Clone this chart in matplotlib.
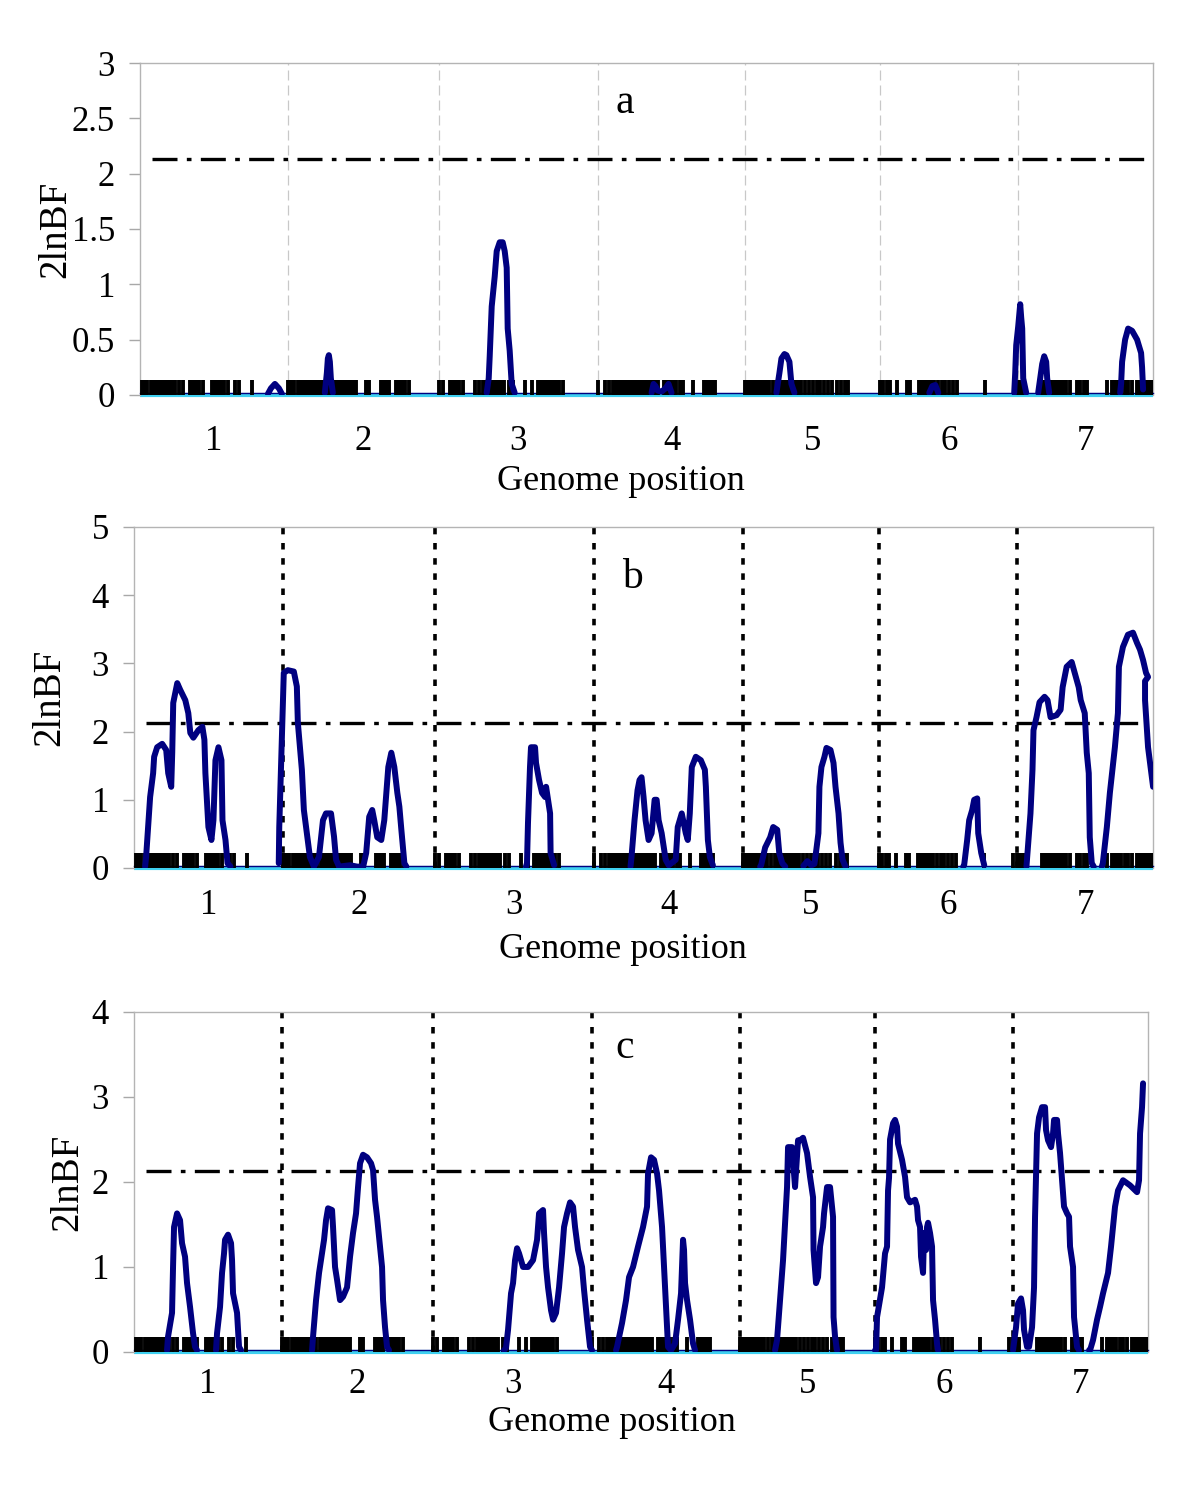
import numpy as np
import matplotlib
matplotlib.use("Agg")
import matplotlib.pyplot as plt
import matplotlib.transforms as mtransforms
from matplotlib.ticker import FuncFormatter

plt.rcParams['font.family'] = ['Liberation Serif', 'DejaVu Serif']

nan = np.nan

# chromosome names and lengths (cM)
chrom_names = ["1", "2", "3", "4", "5", "6", "7"]
chrom_len = [148, 151, 159, 148, 135, 138, 135]

# marker positions within each chromosome (cM)
markers = [
    [2, 5, 7, 11, 14, 17, 20, 23, 26, 29, 32, 35, 39, 43, 50, 53, 56, 59, 63,
     72, 75, 78, 81, 84, 88, 95, 99, 112],
    [0, 3, 6, 10, 13, 16, 19, 22, 25, 28, 31, 34, 38, 41, 44, 47, 50, 53, 56,
     59, 62, 65, 68, 78, 81, 93, 96, 99, 101, 108, 111, 114, 117, 121],
    [0, 4, 11, 14, 17, 20, 24, 36, 40, 44, 47, 50, 53, 56, 59, 62, 65, 70, 74,
     86, 93, 99, 102, 105, 108, 111, 114, 117, 120, 124],
    [0, 7, 11, 15, 18, 21, 24, 27, 30, 33, 36, 39, 42, 45, 48, 51, 54, 57, 60,
     66, 69, 72, 75, 78, 82, 85, 95, 106, 109, 112, 115, 118],
    [0, 3, 6, 9, 12, 15, 18, 21, 24, 28, 32, 35, 38, 41, 44, 47, 50, 53, 56,
     60, 64, 68, 72, 75, 79, 83, 87, 92, 96, 100, 103],
    [0, 3, 7, 10, 17, 27, 30, 39, 42, 45, 48, 51, 54, 58, 62, 65, 69, 73, 77,
     105, 134],
    [0, 3, 6, 24, 27, 30, 33, 36, 39, 42, 45, 48, 52, 59, 62, 66, 69, 89, 94,
     97, 100, 103, 107, 110, 114, 119, 122, 125, 128, 131, 134],
]

threshold = 2.13

# profile a: genome position (cM) and 2lnBF, nan separates peaks
a_pos = [128, 131, 135, 139, 142, nan,
         185, 187, 188, 189, 190, 191, 193, nan,
         347, 349, 350, 352, 355, 357, 360, 363, 365, 367, 368, 370, 372, 375, nan,
         512, 514, 516, 518, 522, 526, 529, 532, nan,
         637, 640, 642, 645, 647, 650, 652, 655, nan,
         790, 793, 796, 799, nan,
         875, 876, 877, 879, 881, 882, 883, 884, 887, nan,
         899, 901, 903, 905, 907, 908, 910, nan,
         981, 982, 983, 986, 989, 993, 998, 1002, 1003, 1004]
a_val = [0.01, 0.06, 0.1, 0.06, 0.01, nan,
         0.02, 0.2, 0.33, 0.36, 0.3, 0.15, 0.02, nan,
         0.02, 0.15, 0.35, 0.8, 1.07, 1.3, 1.38, 1.38, 1.3, 1.15, 0.6, 0.4, 0.1, 0.02, nan,
         0.02, 0.1, 0.08, 0.04, 0.03, 0.06, 0.1, 0.02, nan,
         0.02, 0.2, 0.33, 0.37, 0.36, 0.3, 0.1, 0.02, nan,
         0.02, 0.08, 0.09, 0.02, nan,
         0.02, 0.2, 0.45, 0.62, 0.82, 0.7, 0.6, 0.15, 0.02, nan,
         0.02, 0.15, 0.28, 0.35, 0.3, 0.15, 0.02, nan,
         0.02, 0.1, 0.3, 0.5, 0.6, 0.58, 0.5, 0.38, 0.25, 0.05]

# profile b
b_pos = [11, 12, 16, 19, 20, 23, 28, 32, 34, 37, 38, 39, 43, 46, 51, 54, 56, 59,
         64, 68, 70, 71, 74, 77, 79, 81, 84, 87, 88, 91, 93, 96, nan,
         144, 144.5, 148, 149, 153, 159, 162, 163, 167, 169, 172, 175, 179, 184,
         188, 191, 196, 199, 201, 204, 215, 222, 228, 231, 234, 237, 239, 242,
         246, 249, 253, 256, 259, 262, 264, 266, 269, 271, nan,
         390, 391, 392, 394, 395, 399, 400, 403, 406, 409, 410, 412, 414, 414.5,
         418, nan,
         494, 495, 498, 501, 503, 505, 507, 509, 512, 515, 518, 520, 522, 525,
         529, 532, 539, 541, 545, 549, 551, 553, 555, 559, 564, 568, 569, 571,
         573, 576, nan,
         623, 624, 628, 633, 636, 640, 642, 645, 648, nan,
         666, 670, 674, 677, 678, 681, 682, 684, 687, 689, 693, 696, 698, 701,
         703, 705, 708, nan,
         825, 826, 829, 831, 834, 836, 839, 840, 843, 846, nan,
         888, 889, 892, 894, 895, 898, 901, 906, 909, 912, 918, 922, 924, 928,
         933, 936, 940, 942, 946, 948, 950, 951, 953, 955, nan,
         963, 964, 968, 971, 976, 979, 980, 984, 989, 994, 998, 1001, 1004,
         1007, 1009, 1006, 1006, 1009, 1014]
b_val = [0.02, 0.16, 1.04, 1.39, 1.63, 1.77, 1.82, 1.73, 1.39, 1.19, 1.69, 2.42,
         2.71, 2.61, 2.46, 2.27, 1.98, 1.91, 2.02, 2.07, 1.88, 1.39, 0.6, 0.41,
         0.7, 1.58, 1.77, 1.58, 0.7, 0.41, 0.07, 0.02, nan,
         0.07, 0.6, 2.32, 2.86, 2.9, 2.88, 2.66, 2.13, 1.44, 0.85, 0.51, 0.16,
         0.02, 0.16, 0.7, 0.8, 0.8, 0.46, 0.12, 0.02, 0.04, 0.02, 0.02, 0.22,
         0.75, 0.85, 0.7, 0.45, 0.41, 0.7, 1.48, 1.69, 1.48, 1.1, 0.9, 0.56,
         0.07, 0.02, nan,
         0.02, 0.07, 0.66, 1.48, 1.77, 1.77, 1.54, 1.29, 1.1, 1.04, 1.19, 1.0,
         0.8, 0.22, 0.04, nan,
         0.02, 0.16, 0.7, 1.14, 1.29, 1.33, 1.04, 0.7, 0.41, 0.51, 1.0, 1.0, 0.7,
         0.51, 0.12, 0.04, 0.12, 0.6, 0.8, 0.51, 0.41, 0.8, 1.48, 1.63, 1.58,
         1.44, 1.19, 0.41, 0.16, 0.04, nan,
         0.02, 0.04, 0.3, 0.45, 0.6, 0.56, 0.22, 0.07, 0.02, nan,
         0.03, 0.1, 0.04, 0.06, 0.16, 0.51, 1.19, 1.48, 1.63, 1.76, 1.73, 1.54,
         1.19, 0.8, 0.37, 0.12, 0.02, nan,
         0.02, 0.04, 0.41, 0.7, 0.85, 1.0, 1.02, 0.51, 0.22, 0.04, nan,
         0.02, 0.22, 0.8, 1.44, 2.02, 2.21, 2.43, 2.51, 2.46, 2.21, 2.24, 2.32,
         2.65, 2.95, 3.02, 2.86, 2.65, 2.46, 2.27, 1.69, 1.39, 0.45, 0.07, 0.02,
         nan,
         0.02, 0.07, 0.6, 1.1, 1.77, 2.27, 2.95, 3.24, 3.42, 3.45, 3.3, 3.2, 3.05,
         2.86, 2.8, 2.74, 2.46, 1.77, 1.19]

# profile c
c_pos = [33, 34, 38, 39, 40, 43, 46, 48, 51, 53, 56, 59, 61, 63, nan,
         82, 83, 86, 88, 90, 91, 94, 97, 98, 99, 103, 105, 107, nan,
         178, 179, 182, 185, 188, 190, 192, 194, 198, 199, 201, 203, 206, 209,
         213, 216, 219, 222, 224, 226, 229, 233, 237, 239, 241, 243, 246, 248,
         249, 251, 253, 255, nan,
         370, 372, 374, 377, 379, 381, 383, 385, 389, 394, 399, 403, 405, 409,
         410, 412, 414, 417, 419, 422, 425, 428, 430, 433, 436, 439, 441, 444,
         448, 450, 453, 456, 458, nan,
         482, 483, 488, 492, 495, 499, 504, 509, 513, 514, 517, 520, 523, 525,
         528, 530, 532, 534, 537, 541, 544, 547, 549, 550, 551, 553, 556, 559,
         561, nan,
         641, 643, 646, 649, 653, 654, 658, 661, 664, 666, 669, 673, 676, 679,
         679.5, 682, 684, 686, 689, 690, 693, 696, 699, 699.5, 701, 703, nan,
         741, 742, 743, 748, 751, 753, 754, 755, 756, 759, 761, 763, 764, 768,
         771, 773, 776, 781, 783, 784, 786, 787, 789, 790, 792, 793, 794, 796,
         798, 799, 801, 803, 804, nan,
         879, 882, 884, 887, 889, 890, 893, 895, 898, 900, 901, 903, 905, 908,
         911, 912, 914, 917, 919, 920, 923, 924, 926, 928, 930, 933, 935, 936,
         939, 940, 943, 945, nan,
         955, 956, 959, 963, 966, 969, 974, 977, 979, 981, 984, 989, 996, 1003,
         1005, 1006, 1008, 1009]
c_val = [0.02, 0.18, 0.46, 1.0, 1.47, 1.63, 1.55, 1.28, 1.12, 0.81, 0.53, 0.22,
         0.06, 0.02, nan,
         0.02, 0.22, 0.53, 0.93, 1.16, 1.32, 1.38, 1.28, 1.08, 0.69, 0.46, 0.06,
         0.02, nan,
         0.02, 0.18, 0.61, 0.93, 1.16, 1.32, 1.55, 1.69, 1.67, 1.47, 1.0, 0.85,
         0.61, 0.65, 0.76, 1.12, 1.4, 1.63, 1.94, 2.22, 2.32, 2.29, 2.22, 2.14,
         1.79, 1.59, 1.24, 1.0, 0.61, 0.29, 0.06, 0.02, nan,
         0.02, 0.05, 0.26, 0.69, 0.81, 1.08, 1.22, 1.16, 1.0, 1.0, 1.08, 1.32,
         1.63, 1.67, 1.4, 1.0, 0.76, 0.49, 0.38, 0.46, 0.76, 1.16, 1.47, 1.63,
         1.76, 1.71, 1.47, 1.2, 1.0, 0.73, 0.38, 0.06, 0.02, nan,
         0.02, 0.06, 0.34, 0.61, 0.88, 1.0, 1.24, 1.47, 1.71, 2.1, 2.29, 2.26,
         2.1, 1.9, 1.47, 1.0, 0.53, 0.06, 0.02, 0.1, 0.38, 0.69, 1.32, 1.2, 0.81,
         0.61, 0.38, 0.1, 0.02, nan,
         0.02, 0.14, 0.61, 1.08, 1.94, 2.41, 2.41, 1.94, 2.49, 2.49, 2.52, 2.34,
         2.06, 1.82, 1.2, 0.81, 0.88, 1.24, 1.47, 1.63, 1.94, 1.94, 1.59, 0.41,
         0.18, 0.02, nan,
         0.02, 0.02, 0.41, 0.76, 1.16, 1.24, 1.9, 2.05, 2.5, 2.69, 2.73, 2.65,
         2.45, 2.26, 2.06, 1.82, 1.76, 1.79, 1.71, 1.55, 1.47, 1.12, 0.93, 1.4,
         1.2, 1.47, 1.52, 1.4, 1.24, 0.61, 0.38, 0.1, 0.02, nan,
         0.02, 0.29, 0.57, 0.63, 0.49, 0.26, 0.06, 0.06, 0.29, 0.76, 1.59, 2.57,
         2.76, 2.88, 2.88, 2.61, 2.49, 2.41, 2.57, 2.73, 2.73, 2.57, 2.34, 2.02,
         1.71, 1.63, 1.59, 1.24, 1.0, 0.41, 0.06, 0.02, nan,
         0.02, 0.02, 0.14, 0.38, 0.53, 0.69, 0.93, 1.24, 1.47, 1.71, 1.9, 2.02,
         1.96, 1.88, 2.02, 2.57, 2.88, 3.16]

starts = np.concatenate([[0], np.cumsum(chrom_len)[:-1]])
bounds = np.cumsum(chrom_len)[:-1]
mids = starts + np.array(chrom_len) / 2
total = sum(chrom_len)
all_markers = np.concatenate([np.array(m) + s for m, s in zip(markers, starts)])

fig = plt.figure(figsize=(12, 14.86), dpi=100)

panels = [
    dict(rect=[0.1167, 0.7342, 0.8442, 0.2234], pos=a_pos, val=a_val, ymax=3,
         step=0.5, tag="a", tagxy=(0.479, 0.88), sep="light",
         ylab_x=-0.083, num_y=-0.139, gp_y=-0.262, gp_x=0.475),
    dict(rect=[0.1117, 0.4159, 0.8492, 0.2295], pos=b_pos, val=b_val, ymax=5,
         step=1, tag="b", tagxy=(0.489, 0.85), sep="dot",
         ylab_x=-0.083, num_y=-0.111, gp_y=-0.24, gp_x=0.48),
    dict(rect=[0.1117, 0.0902, 0.8450, 0.2288], pos=c_pos, val=c_val, ymax=4,
         step=1, tag="c", tagxy=(0.484, 0.894), sep="dot",
         ylab_x=-0.065, num_y=-0.097, gp_y=-0.206, gp_x=0.471),
]

for p in panels:
    ax = fig.add_axes(p["rect"])
    ax.set_xlim(0, total)
    ax.set_ylim(0, p["ymax"])

    for s in ["left", "top", "right"]:
        ax.spines[s].set_color("#b4b4b4")
        ax.spines[s].set_linewidth(1.0)
    ax.spines["bottom"].set_visible(False)

    ax.set_xticks([])
    ax.set_yticks(np.arange(0, p["ymax"] + 0.001, p["step"]))
    ax.yaxis.set_major_formatter(FuncFormatter(lambda v, _: "%g" % v))
    ax.tick_params(axis="y", direction="out", length=8, width=1.0,
                   color="#a8a8a8", pad=10, labelsize=25)

    # chromosome separators
    for b in bounds:
        if p["sep"] == "light":
            ax.axvline(b, color="#c8c8c8", lw=0.9, ls=(0, (8, 4)), zorder=1)
        else:
            ax.axvline(b, color="black", lw=2.6, ls=(0, (1.8, 2.4)), zorder=1)

    # threshold
    ax.axhline(threshold, xmin=0.012, xmax=0.993, color="black", lw=2.4,
               ls=(0, (7.5, 2.8, 1.4, 2.8)), zorder=2)

    # baselines
    ax.plot([0, total], [0, 0], color="#3fd0f0", lw=3.0, clip_on=False,
            solid_capstyle="butt", zorder=2)
    shift = mtransforms.offset_copy(ax.transData, fig=fig, x=0, y=1.2,
                                    units="points")
    ax.plot([0, total], [0, 0], color="#000080", lw=1.0, transform=shift,
            clip_on=False, zorder=3)

    # markers
    ax.vlines(all_markers, 0, 0.044, transform=ax.get_xaxis_transform(),
              color="black", lw=2.8, zorder=4)

    # profile
    ax.plot(p["pos"], p["val"], color="#000080", lw=4.3,
            solid_joinstyle="round", solid_capstyle="round", zorder=5)

    ax.text(p["tagxy"][0], p["tagxy"][1], p["tag"], transform=ax.transAxes,
            ha="center", va="center", fontsize=30)

    ax.text(p["ylab_x"], 0.5, "2lnBF", transform=ax.transAxes, rotation=90,
            ha="center", va="center", fontsize=28)

    trans = ax.get_xaxis_transform()
    for m, name in zip(mids, chrom_names):
        ax.text(m, p["num_y"], name, transform=trans, ha="center",
                va="center", fontsize=25)
    ax.text(p["gp_x"], p["gp_y"], "Genome position", transform=ax.transAxes,
            ha="center", va="center", fontsize=26)

fig.savefig("out.png", dpi=100)
